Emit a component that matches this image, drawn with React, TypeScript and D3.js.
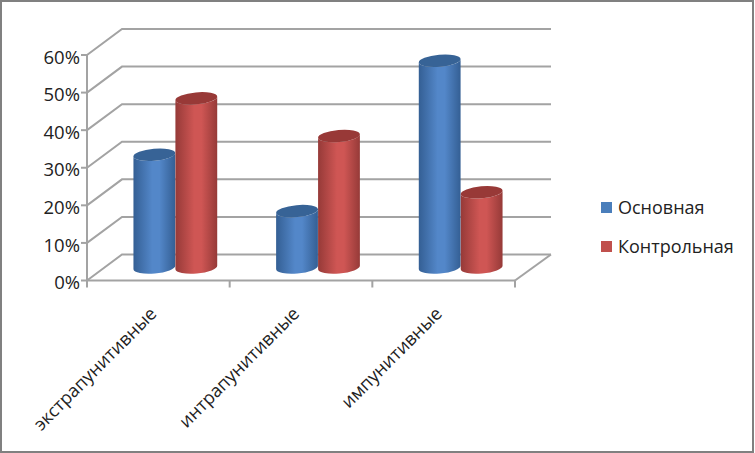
import React from "react";
import * as d3 from "d3";

const categories = ["экстрапунитивные", "интрапунитивные", "импунитивные"];
const seriesNames = ["Основная", "Контрольная"];
const mainValues = [0.3, 0.15, 0.55];
const controlValues = [0.45, 0.35, 0.2];
const yTicks = [0, 0.1, 0.2, 0.3, 0.4, 0.5, 0.6];

const seriesValues = [mainValues, controlValues];
const seriesColors = [
  { edge: "#345f94", mid: "#5387c9", top: "#376396", legend: "#4a7ebb" },
  { edge: "#963a38", mid: "#cf5654", top: "#983937", legend: "#c0504d" },
];

const W = 755;
const H = 453;
const depthX = 35;
const depthY = 26;
const font = "'Open Sans', sans-serif";
const gridColor = "#a3a3a3";

const x0 = d3.scaleBand().domain(categories).range([87, 515]);
const x1 = d3.scaleBand().domain(seriesNames).range([0, x0.bandwidth()]).paddingOuter(0.7);
const y = d3.scaleLinear().domain([0, 0.6]).range([280.5, 55]);

// cylinder with slightly tilted caps
function cylinderPath(cx: number, topY: number, botY: number, rx: number, ry: number) {
  const tilt = 5;
  const dx = rx * Math.cos((tilt * Math.PI) / 180);
  const dy = rx * Math.sin((tilt * Math.PI) / 180);
  return `M${cx - dx},${topY + dy} L${cx - dx},${botY + dy} A${rx},${ry} ${-tilt} 0 0 ${cx + dx},${botY - dy} L${cx + dx},${topY - dy} A${rx},${ry} ${-tilt} 0 1 ${cx - dx},${topY + dy} Z`;
}

export default function App() {
  const floorY = y(0);
  const backRight = x0.range()[1] + depthX + 1;
  const rx = x1.bandwidth() / 2;
  const midOffX = depthX / 2 - 0.5;
  const midOffY = depthY / 2;

  return (
    <svg
      width={W}
      height={H}
      style={{ position: "absolute", left: 0, top: 0, background: "#fff" }}
    >
      <defs>
        {seriesColors.map((c, i) => (
          <linearGradient key={i} id={`cyl${i}`} x1="0" x2="1" y1="0" y2="0">
            <stop offset="0" stopColor={c.edge} />
            <stop offset="0.45" stopColor={c.mid} />
            <stop offset="0.62" stopColor={c.mid} />
            <stop offset="1" stopColor={c.edge} />
          </linearGradient>
        ))}
      </defs>

      {/* frame */}
      <rect x={1} y={1} width={W - 3} height={H - 2} fill="none" stroke="#808080" strokeWidth={2} />

      {/* walls */}
      {yTicks.map((t) => (
        <g key={t}>
          <polyline
            points={`${x0.range()[0]},${y(t)} ${x0.range()[0] + depthX},${y(t) - depthY} ${backRight},${y(t) - depthY}`}
            fill="none"
            stroke={gridColor}
            strokeWidth={2}
          />
          <line x1={81} x2={87} y1={y(t)} y2={y(t)} stroke={gridColor} strokeWidth={2} />
          <text
            x={80}
            y={y(t) + 2}
            dy="0.36em"
            textAnchor="end"
            fontFamily={font}
            fontSize={18.5}
            fill="#222"
          >
            {d3.format(".0%")(t)}
          </text>
        </g>
      ))}

      {/* axes */}
      <line x1={87} x2={87} y1={y(0.6)} y2={floorY + 7} stroke={gridColor} strokeWidth={2} />
      <line x1={87} x2={515} y1={floorY} y2={floorY} stroke={gridColor} strokeWidth={2} />
      <line x1={515} x2={backRight} y1={floorY} y2={floorY - depthY} stroke={gridColor} strokeWidth={2} />
      {categories.map((c) => (
        <line
          key={c}
          x1={(x0(c) as number) + x0.bandwidth()}
          x2={(x0(c) as number) + x0.bandwidth()}
          y1={floorY}
          y2={floorY + 7}
          stroke={gridColor}
          strokeWidth={2}
        />
      ))}

      {/* bars */}
      {categories.map((c, ci) =>
        seriesNames.map((s, si) => {
          const cx = (x0(c) as number) + (x1(s) as number) + rx + midOffX;
          const topY = y(seriesValues[si][ci]) - midOffY;
          const botY = floorY - midOffY;
          return (
            <g key={s}>
              <path d={cylinderPath(cx, topY, botY, rx, 6)} fill={`url(#cyl${si})`} />
              <ellipse
                cx={cx}
                cy={topY}
                rx={rx}
                ry={6}
                fill={seriesColors[si].top}
                transform={`rotate(-5 ${cx} ${topY})`}
              />
            </g>
          );
        })
      )}

      {/* category labels */}
      {categories.map((c) => {
        const tx = (x0(c) as number) + x0.bandwidth() / 2 - 4;
        return (
          <text
            key={c}
            transform={`translate(${tx},${floorY + 31}) rotate(-45)`}
            textAnchor="end"
            dominantBaseline="middle"
            fontFamily={font}
            fontSize={18}
            fill="#222"
          >
            {c}
          </text>
        );
      })}

      {/* legend */}
      {seriesNames.map((s, i) => (
        <g key={s}>
          <rect x={601} y={202 + i * 39} width={11} height={11} fill={seriesColors[i].legend} />
          <text x={618} y={208 + i * 39} dy="0.36em" fontFamily={font} fontSize={18} fill="#222">
            {s}
          </text>
        </g>
      ))}
    </svg>
  );
}
